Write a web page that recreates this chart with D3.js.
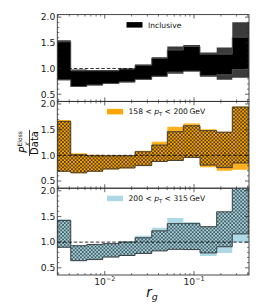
<!DOCTYPE html>
<html><head><meta charset="utf-8">
<script src="https://cdn.jsdelivr.net/npm/d3@7"></script>
<style>html,body{margin:0;padding:0;background:#fff;}svg{display:block;font-family:"DejaVu Sans",sans-serif;}</style>
</head><body>
<svg id="c" width="262" height="306"></svg>
<script>
// ---- data ----
const binEdges = [0.00294, 0.00416, 0.00629, 0.0095, 0.01446, 0.02185, 0.0336, 0.0502, 0.0759, 0.1167, 0.1795, 0.2684, 0.413];

const inclOuterHi = [1.55, 0.98, 0.97, 0.97, 1.00, 1.08, 1.22, 1.43, 1.46, 1.31, 1.41, 1.90];
const inclInnerHi = [1.52, 0.955, 0.955, 0.955, 0.99, 1.065, 1.20, 1.36, 1.43, 1.28, 1.28, 1.61];
const inclInnerLo = [0.78, 0.65, 0.68, 0.71, 0.74, 0.79, 0.85, 0.93, 0.95, 0.86, 0.88, 0.98];
const inclOuterLo = [0.77, 0.64, 0.67, 0.70, 0.73, 0.78, 0.84, 0.90, 0.94, 0.84, 0.78, 0.82];

const lowOuterHi = [1.69, 1.04, 1.01, 1.00, 1.00, 1.09, 1.265, 1.555, 1.62, 1.51, 1.46, 1.95];
const lowInnerHi = [1.66, 1.01, 0.99, 0.99, 0.99, 1.07, 1.20, 1.46, 1.575, 1.48, 1.45, 1.94];
const lowInnerLo = [0.69, 0.66, 0.69, 0.735, 0.755, 0.80, 0.88, 0.90, 0.96, 0.81, 0.76, 0.85];
const lowOuterLo = [0.68, 0.65, 0.68, 0.725, 0.745, 0.79, 0.87, 0.89, 0.95, 0.77, 0.70, 0.72];

const highOuterHi = [1.45, 0.94, 0.96, 0.98, 1.02, 1.125, 1.28, 1.47, 1.39, 1.31, 1.59, 2.10];
const highInnerHi = [1.42, 0.93, 0.955, 0.97, 1.00, 1.085, 1.22, 1.36, 1.36, 1.30, 1.59, 2.10];
const highInnerLo = [0.90, 0.64, 0.66, 0.71, 0.74, 0.78, 0.83, 0.86, 0.855, 0.79, 0.91, 1.16];
const highOuterLo = [0.89, 0.63, 0.65, 0.70, 0.73, 0.77, 0.82, 0.85, 0.845, 0.73, 0.79, 1.00];

const yTicks = [0.5, 1.0, 1.5, 2.0];
const xTickExps = [-2, -1];
const legendLabels = ["Inclusive", "158 < pT < 200 GeV", "200 < pT < 315 GeV"];

// ---- layout ----
const svg = d3.select("#c");
const L = 57.3, R = 249, top0 = 14.6, H = 86.8;
const x = d3.scaleLog().domain([binEdges[0], binEdges[binEdges.length-1]]).range([L, R]);

const defs = svg.append("defs");
function hatch(id, bg, line) {
  const p = defs.append("pattern").attr("id", id).attr("patternUnits", "userSpaceOnUse")
    .attr("width", 3.6).attr("height", 3.6);
  p.append("rect").attr("width", 3.6).attr("height", 3.6).attr("fill", bg);
  p.append("path").attr("d", "M0,0L3.6,3.6M3.6,0L0,3.6M-1,1L1,-1M2.6,4.6L4.6,2.6M-1,2.6L1,4.6M2.6,-1L4.6,1")
    .attr("stroke", line).attr("stroke-width", 0.7).attr("fill", "none");
}
hatch("hInc", "#000", "#000");
hatch("hLow", "#FFA500", "#222");
hatch("hHigh", "#A9D3DE", "#263c42");

const panels = [
  {outerHi: inclOuterHi, outerLo: inclOuterLo, innerHi: inclInnerHi, innerLo: inclInnerLo,
   outerColor: "#3b3b3b", innerFill: "url(#hInc)", edge: "#555", swatch: "#000", legX: 126.5, label: 0},
  {outerHi: lowOuterHi, outerLo: lowOuterLo, innerHi: lowInnerHi, innerLo: lowInnerLo,
   outerColor: "#FFB01F", innerFill: "url(#hLow)", edge: "#333", swatch: "#FFA500", legX: 107, label: 1},
  {outerHi: highOuterHi, outerLo: highOuterLo, innerHi: highInnerHi, innerLo: highInnerLo,
   outerColor: "#ADD8E6", innerFill: "url(#hHigh)", edge: "#333", swatch: "#ADD8E6", legX: 107, label: 2}
];

panels.forEach((P, k) => {
  const top = top0 + k * H, bot = top + H;
  const y = d3.scaleLinear().domain([0.36, 2.05]).range([bot, top]);
  const g = svg.append("g");
  defs.append("clipPath").attr("id", "clip" + k).append("rect")
    .attr("x", L).attr("y", top).attr("width", R - L).attr("height", H);
  const gc = g.append("g").attr("clip-path", `url(#clip${k})`);

  const pts = (hi, lo) => binEdges.map((e, i) => ({x: e, hi: hi[Math.min(i, hi.length - 1)], lo: lo[Math.min(i, lo.length - 1)]}));
  const area = d3.area().curve(d3.curveStepAfter).x(d => x(d.x)).y0(d => y(d.lo)).y1(d => y(d.hi));

  gc.append("path").attr("d", area(pts(P.outerHi, P.outerLo))).attr("fill", P.outerColor);
  gc.append("path").attr("d", area(pts(P.innerHi, P.innerLo))).attr("fill", P.innerFill)
    .attr("stroke", P.edge).attr("stroke-width", 0.9);

  // reference line
  gc.append("line").attr("x1", L).attr("x2", R).attr("y1", y(1)).attr("y2", y(1))
    .attr("stroke", "#000").attr("stroke-width", 0.8).attr("stroke-dasharray", "3.5,2");

  // y ticks
  const minorY = d3.range(4, 21).map(v => v / 10).filter(v => yTicks.indexOf(v) < 0);
  minorY.forEach(v => {
    g.append("line").attr("x1", L).attr("x2", L + 2).attr("y1", y(v)).attr("y2", y(v)).attr("stroke", "#222").attr("stroke-width", 0.6);
    g.append("line").attr("x1", R).attr("x2", R - 2).attr("y1", y(v)).attr("y2", y(v)).attr("stroke", "#222").attr("stroke-width", 0.6);
  });
  yTicks.forEach(v => {
    g.append("line").attr("x1", L).attr("x2", L + 4).attr("y1", y(v)).attr("y2", y(v)).attr("stroke", "#222").attr("stroke-width", 0.7);
    g.append("line").attr("x1", R).attr("x2", R - 4).attr("y1", y(v)).attr("y2", y(v)).attr("stroke", "#222").attr("stroke-width", 0.7);
    g.append("text").attr("x", L - 2).attr("y", y(v) + 3.3).attr("text-anchor", "end")
      .attr("font-size", 9.2).attr("fill", "#222").text(v.toFixed(1));
  });

  // x ticks
  const minorX = [];
  [-3, -2, -1].forEach(ex => { for (let m = 2; m <= 9; m++) { const v = m * Math.pow(10, ex); if (v > x.domain()[0] && v < x.domain()[1]) minorX.push(v); } });
  minorX.forEach(v => {
    g.append("line").attr("x1", x(v)).attr("x2", x(v)).attr("y1", bot).attr("y2", bot - 2).attr("stroke", "#222").attr("stroke-width", 0.6);
    g.append("line").attr("x1", x(v)).attr("x2", x(v)).attr("y1", top).attr("y2", top + 2).attr("stroke", "#222").attr("stroke-width", 0.6);
  });
  xTickExps.forEach(ex => {
    const v = Math.pow(10, ex);
    g.append("line").attr("x1", x(v)).attr("x2", x(v)).attr("y1", bot).attr("y2", bot - 4).attr("stroke", "#222").attr("stroke-width", 0.7);
    g.append("line").attr("x1", x(v)).attr("x2", x(v)).attr("y1", top).attr("y2", top + 4).attr("stroke", "#222").attr("stroke-width", 0.7);
  });

  // frame
  g.append("rect").attr("x", L).attr("y", top).attr("width", R - L).attr("height", H)
    .attr("fill", "none").attr("stroke", "#333").attr("stroke-width", 0.9);

  // legend
  g.append("rect").attr("x", P.legX).attr("y", top + 7.5).attr("width", 16).attr("height", 5.5).attr("fill", P.swatch);
  const t = g.append("text").attr("x", P.legX + 21.5).attr("y", top + 13).attr("font-size", 7.6).attr("fill", "#111");
  if (P.label === 0) {
    t.text(legendLabels[0]);
  } else {
    const parts = legendLabels[P.label].split("pT");
    t.append("tspan").text(parts[0]);
    t.append("tspan").attr("font-style", "italic").text("p");
    t.append("tspan").attr("font-size", 5.2).attr("dy", 1.5).text("T");
    t.append("tspan").attr("dy", -1.5).text(parts[1].replace(" GeV", "\u2009GeV"));
  }

  if (k === 2) {
    xTickExps.forEach(ex => {
      const tx = svg.append("text").attr("x", x(Math.pow(10, ex))).attr("y", bot + 9.5)
        .attr("text-anchor", "middle").attr("font-size", 9.2).attr("fill", "#222");
      tx.append("tspan").text("10");
      tx.append("tspan").attr("font-size", 6.4).attr("dy", -3.6).text("\u2212" + Math.abs(ex));
    });
  }
});

// axis labels
const xl = svg.append("text").attr("x", 152).attr("y", 297).attr("text-anchor", "middle").attr("font-size", 13.5).attr("fill", "#111");
xl.append("tspan").attr("font-style", "italic").text("r");
xl.append("tspan").attr("font-style", "italic").attr("font-size", 9.5).attr("dy", 3).text("g");

const yl = svg.append("g").attr("transform", "translate(29.5,143) rotate(-90)");
yl.append("line").attr("x1", -13).attr("x2", 13).attr("y1", 0).attr("y2", 0).attr("stroke", "#111").attr("stroke-width", 0.8);
yl.append("text").attr("x", 0).attr("y", 8.6).attr("text-anchor", "middle").attr("font-size", 10).attr("fill", "#111").text("Data");
const num = yl.append("text").attr("x", -10).attr("y", -2.2).attr("font-size", 10.5).attr("fill", "#111");
num.append("tspan").attr("font-style", "italic").text("P");
num.append("tspan").attr("font-style", "italic").attr("font-size", 6.5).attr("dx", 0.2).attr("dy", 2.5).text("X");
num.append("tspan").attr("font-size", 6).attr("dx", -4.5).attr("dy", -8).text("Eloss");
</script>
</body></html>
